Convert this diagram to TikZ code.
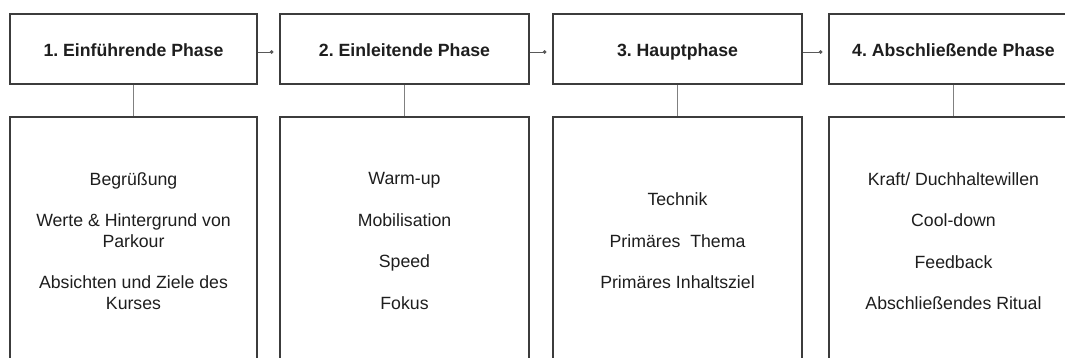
\documentclass[tikz,border=0pt]{standalone}
\usepackage{fontspec}
\setmainfont{Liberation Sans}
\usetikzlibrary{arrows.meta}
\definecolor{boxline}{HTML}{3C3C3C}
\definecolor{conline}{HTML}{808080}
\definecolor{txt}{HTML}{1E1E1E}
\tikzset{
  head/.style={draw=boxline, line width=1.3pt, minimum height=70pt, inner sep=0pt,
    text height=15.4pt, text depth=0pt,
    font=\fontsize{17.7}{20.7}\selectfont\bfseries\frenchspacing, text=txt},
  body/.style={draw=boxline, line width=1.3pt, minimum height=248pt, inner sep=0pt,
    align=center, font=\fontsize{17.7}{20.7}\selectfont\frenchspacing, text=txt},
  flow/.style={draw=boxline!85, line width=0.9pt, -{Circle[length=3.6pt]}, shorten >=6pt},
  link/.style={draw=conline, line width=1.1pt}
}
\begin{document}
\begin{tikzpicture}[x=1pt,y=-1pt]
\useasboundingbox (0,0) rectangle (1065,358);
\clip (0,0) rectangle (1065,358);
\fill[white] (0,0) rectangle (1065,358);
\node[head, minimum width=247pt] (h1) at (133.5,49) {1. Einführende Phase};
\node[head, minimum width=249pt] (h2) at (404.5,49) {2. Einleitende Phase};
\node[head, minimum width=249pt] (h3) at (677.5,49) {3. Hauptphase};
\node[head, minimum width=249pt] (h4) at (953.5,49) {4. Abschließende Phase};
\node[body, minimum width=247pt] (b1) at (133.5,241) {Begrüßung\\[20.7pt]Werte \& Hintergrund von\\Parkour\\[20.7pt]Absichten und Ziele des\\Kurses};
\node[body, minimum width=249pt] (b2) at (404.5,241) {Warm-up\\[20.7pt]Mobilisation\\[20.7pt]Speed\\[20.7pt]Fokus};
\node[body, minimum width=249pt] (b3) at (677.5,241) {Technik\\[20.7pt]Primäres\ \ Thema\\[20.7pt]Primäres Inhaltsziel};
\node[body, minimum width=249pt] (b4) at (953.5,241) {Kraft/ Duchhaltewillen\\[20.7pt]Cool-down\\[20.7pt]Feedback\\[20.7pt]Abschließendes Ritual};
\draw[flow] ([yshift=-3pt]h1.east) -- ([yshift=-3pt]h2.west);
\draw[flow] ([yshift=-3pt]h2.east) -- ([yshift=-3pt]h3.west);
\draw[flow] ([yshift=-3pt]h3.east) -- ([yshift=-3pt]h4.west);
\draw[link] (h1.south) -- (b1.north);
\draw[link] (h2.south) -- (b2.north);
\draw[link] (h3.south) -- (b3.north);
\draw[link] (h4.south) -- (b4.north);
\end{tikzpicture}
\end{document}
